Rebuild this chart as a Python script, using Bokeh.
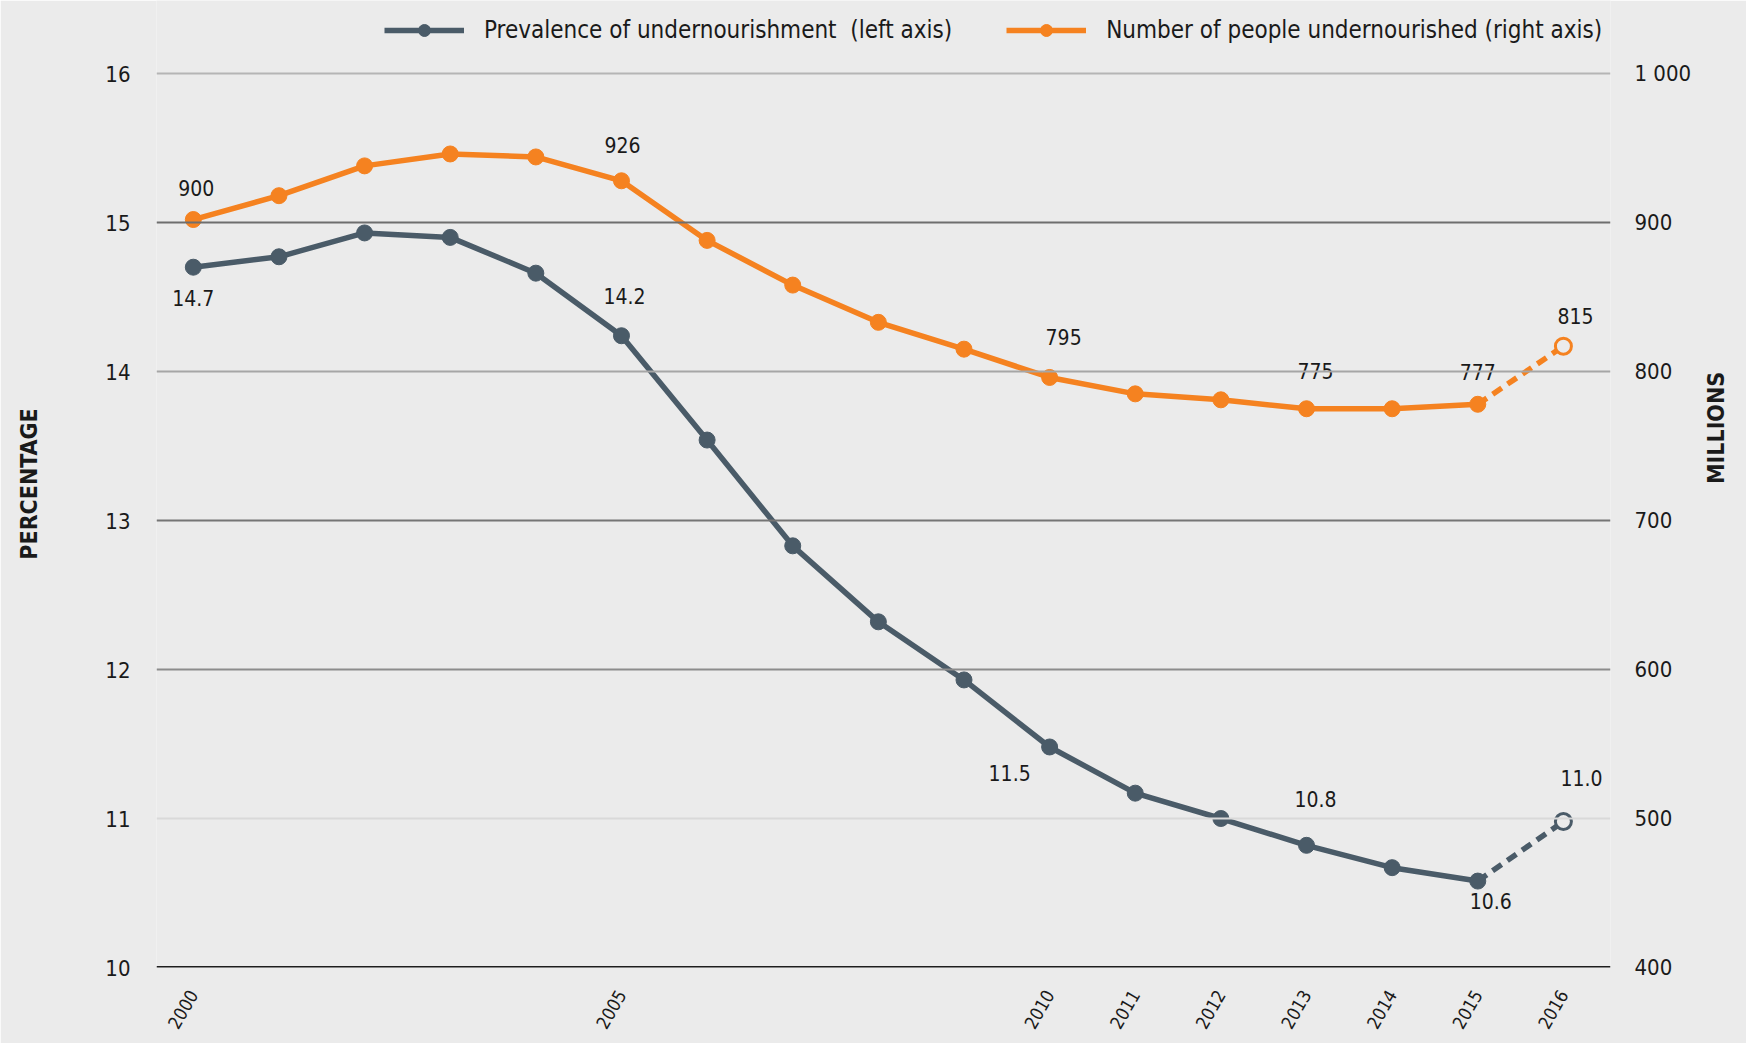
import math
from bokeh.plotting import figure
from bokeh.models import (Range1d, LinearAxis, FixedTicker, Span, Legend, LegendItem,
                          ColumnDataSource, CustomJSTickFormatter)
from bokeh.core.properties import value
from bokeh.embed import file_html
from bokeh.resources import INLINE

# ---------------- data ----------------
years = [2000, 2001, 2002, 2003, 2004, 2005, 2006, 2007, 2008, 2009, 2010,
         2011, 2012, 2013, 2014, 2015, 2016]
prevalence = [14.7, 14.77, 14.93, 14.9, 14.66, 14.24, 13.54, 12.83, 12.32, 11.93,
              11.48, 11.17, 11.0, 10.82, 10.67, 10.58, 10.98]
undernourished = [902, 918, 938, 946, 944, 928, 888, 858, 833, 815, 796,
                  785, 781, 775, 775, 778, 817]

prev_label_years = [2000, 2005, 2010, 2013, 2015, 2016]
prev_label_text = ["14.7", "14.2", "11.5", "10.8", "10.6", "11.0"]
num_label_years = [2000, 2005, 2010, 2013, 2015, 2016]
num_label_text = ["900", "926", "795", "775", "777", "815"]

x_ticks = [2000, 2005, 2010, 2011, 2012, 2013, 2014, 2015, 2016]
left_ticks = [10, 11, 12, 13, 14, 15, 16]
right_ticks = [400, 500, 600, 700, 800, 900, 1000]

legend_labels = ["Prevalence of undernourishment  (left axis)",
                 "Number of people undernourished (right axis)"]

# ---------------- style ----------------
BG = "#ebebeb"
SLATE = "#4a5b68"
ORANGE = "#f58220"
FONT = "DejaVu Sans Condensed"
TXT = "#1a1a1a"

# the frame reaches the top of the page; the space above 16 / 1 000 holds the legend
p = figure(width=1746, height=1043, output_backend="svg", toolbar_location=None,
           x_range=Range1d(1999.57, 2016.55), y_range=Range1d(10, 16.49),
           min_border_left=156, min_border_right=136, min_border_top=0,
           min_border_bottom=76)
p.background_fill_color = BG
p.border_fill_color = BG
p.outline_line_color = None
p.grid.visible = False

p.extra_y_ranges = {"num": Range1d(400, 1049)}

# gridlines (each with its own grey)
grid_colors = {11: "#d9d9d9", 12: "#8c8c8c", 13: "#757575", 14: "#a6a6a6",
               15: "#6e6e6e", 16: "#b5b5b5"}
for v, c in grid_colors.items():
    p.add_layout(Span(location=v, dimension="width", line_color=c, line_width=2))
p.add_layout(Span(location=10, dimension="width", line_color="#1e1e1e", line_width=3))

# axes
p.xaxis.ticker = FixedTicker(ticks=x_ticks)
p.xaxis.major_label_orientation = math.pi / 3
p.xaxis.axis_line_color = None
p.xaxis.major_tick_line_color = None
p.xaxis.minor_tick_line_color = None
p.xaxis.major_label_text_font = FONT
p.xaxis.major_label_text_font_size = "18px"
p.xaxis.major_label_text_color = TXT
p.xaxis.major_label_standoff = 18

p.yaxis.ticker = FixedTicker(ticks=left_ticks)
p.yaxis.axis_line_color = None
p.yaxis.major_tick_line_color = None
p.yaxis.minor_tick_line_color = None
p.yaxis.major_label_text_font = FONT
p.yaxis.major_label_text_font_size = "22px"
p.yaxis.major_label_text_color = TXT
p.yaxis.major_label_standoff = 20
p.yaxis.axis_label = "PERCENTAGE"
p.yaxis.axis_label_text_font = FONT
p.yaxis.axis_label_text_font_style = "bold"
p.yaxis.axis_label_text_font_size = "23px"
p.yaxis.axis_label_text_color = TXT
p.yaxis.axis_label_standoff = 60

raxis = LinearAxis(y_range_name="num", ticker=FixedTicker(ticks=right_ticks),
                   formatter=CustomJSTickFormatter(code="return tick >= 1000 ? '1 000' : String(tick);"))
raxis.axis_line_color = None
raxis.major_tick_line_color = None
raxis.minor_tick_line_color = None
raxis.major_label_text_font = FONT
raxis.major_label_text_font_size = "22px"
raxis.major_label_text_color = TXT
raxis.major_label_standoff = 18
raxis.axis_label = "MILLIONS"
raxis.axis_label_text_font = FONT
raxis.axis_label_text_font_style = "bold"
raxis.axis_label_text_font_size = "23px"
raxis.axis_label_text_color = TXT
raxis.axis_label_standoff = 22
raxis.axis_label_orientation = math.pi / 2
p.add_layout(raxis, "right")

# series: solid part (2000-2015) and dashed projection (2015-2016)
solid = ColumnDataSource(dict(x=years[:-1], p=prevalence[:-1], n=undernourished[:-1]))
proj = ColumnDataSource(dict(x=years[-2:], p=prevalence[-2:], n=undernourished[-2:]))
last = ColumnDataSource(dict(x=years[-1:], p=prevalence[-1:], n=undernourished[-1:]))

LW = 5.5
MS = 16
l1 = p.line("x", "p", source=solid, line_color=SLATE, line_width=LW)
p.line("x", "p", source=proj, line_color=SLATE, line_width=LW, line_dash="11 7")
s1 = p.scatter("x", "p", source=solid, size=MS, fill_color=SLATE, line_color=SLATE)
p.scatter("x", "p", source=last, size=MS, fill_color=BG, line_color=SLATE, line_width=3)

l2 = p.line("x", "n", source=solid, line_color=ORANGE, line_width=LW, y_range_name="num")
p.line("x", "n", source=proj, line_color=ORANGE, line_width=LW, line_dash="11 7", y_range_name="num")
s2 = p.scatter("x", "n", source=solid, size=MS, fill_color=ORANGE, line_color=ORANGE, y_range_name="num")
p.scatter("x", "n", source=last, size=MS, fill_color=BG, line_color=ORANGE, line_width=3, y_range_name="num")

# data labels
pv = [prevalence[years.index(y)] for y in prev_label_years]
nv = [undernourished[years.index(y)] for y in num_label_years]
p_dx = [0, 3, -40, 9, 13, 18]
p_dy = [31, -40, 26, -46, 20, -43]
n_dx = [3, 1, 14, 9, 0, 12]
n_dy = [-32, -36, -40, -38, -32, -30]
p.text(x=prev_label_years, y=pv, text=prev_label_text, x_offset=p_dx, y_offset=p_dy,
       text_font=value(FONT), text_font_size="21px", text_color=TXT,
       text_align="center", text_baseline="middle")
p.text(x=num_label_years, y=nv, text=num_label_text, x_offset=n_dx, y_offset=n_dy,
       text_font=value(FONT), text_font_size="21px", text_color=TXT,
       text_align="center", text_baseline="middle", y_range_name="num")

legend = Legend(items=[LegendItem(label=legend_labels[0], renderers=[l1, s1]),
                       LegendItem(label=legend_labels[1], renderers=[l2, s2])],
                orientation="horizontal", location=(228, 922),
                background_fill_alpha=0, border_line_color=None,
                label_text_font=FONT, label_text_font_size="24px", label_text_color=TXT,
                glyph_width=80, glyph_height=30, label_height=30, label_standoff=20,
                spacing=54, padding=0, margin=0)
p.add_layout(legend, "center")

open("out.html", "w").write(file_html(p, INLINE))
